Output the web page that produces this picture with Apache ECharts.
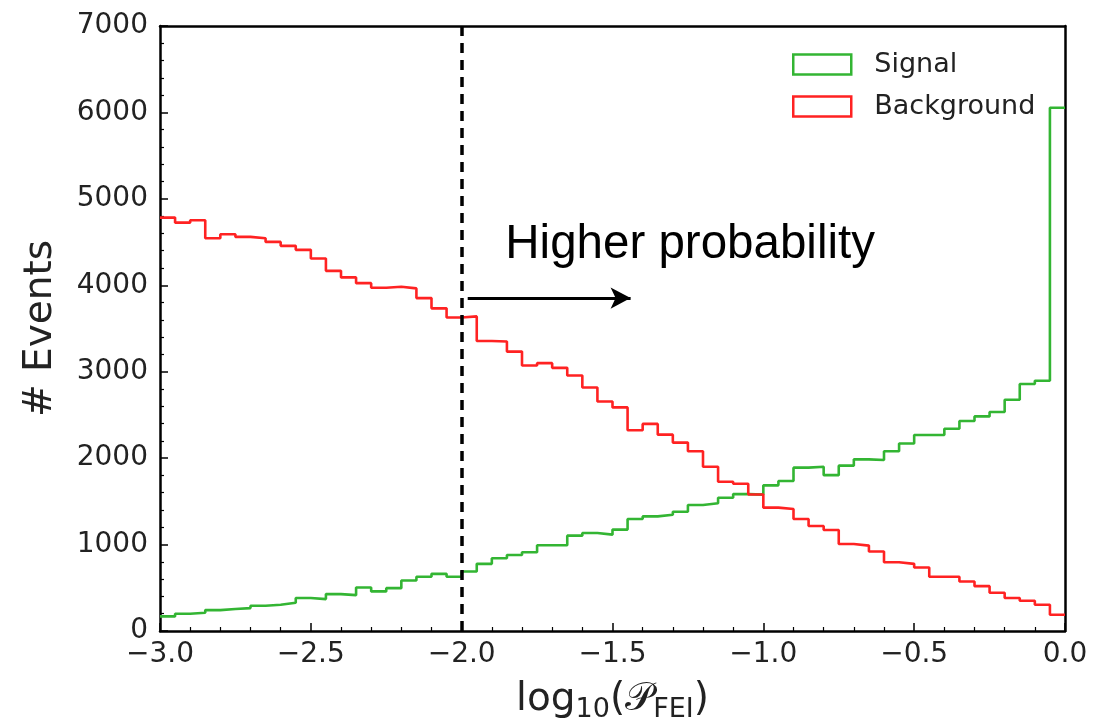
<!DOCTYPE html>
<html><head><meta charset="utf-8">
<script src="https://cdn.jsdelivr.net/npm/echarts@6/dist/echarts.min.js"></script>
<style>html,body{margin:0;padding:0;background:#fff}#c{width:1093px;height:728px}</style>
</head><body><div id="c"></div>
<script>
// Histogram binning (60 bins of width 0.05 from -3.0 to 0.0)
const binStart = -3.0;
const binWidth = 0.05;

// Signal counts per bin
const signal = [169, 200, 211, 242, 254, 265, 292, 304, 327, 381,
                369, 427, 415, 504, 458, 496, 584, 627, 661, 627,
                688, 777, 842, 880, 911, 992, 992, 1103, 1134, 1115,
                1173, 1296, 1326, 1345, 1380, 1457, 1478, 1542, 1584, 1578,
                1685, 1736, 1890, 1900, 1803, 1913, 1986, 1978, 2080, 2170,
                2268, 2268, 2340, 2430, 2483, 2534, 2676, 2857, 2895, 6055];

// Background counts per bin
const background = [4783, 4725, 4752, 4544, 4590, 4560, 4544, 4502, 4456, 4410,
                    4310, 4167, 4091, 4025, 3971, 3983, 3964, 3852, 3733, 3628,
                    3640, 3355, 3350, 3233, 3072, 3099, 3045, 2956, 2818, 2656,
                    2587, 2322, 2396, 2272, 2180, 2080, 1900, 1727, 1703, 1580,
                    1427, 1411, 1296, 1215, 1169, 1007, 988, 919, 796, 777,
                    734, 627, 627, 573, 519, 442, 381, 350, 304, 188];

const seriesNames = ['Signal', 'Background'];
const cutValue = -2.0;
const arrowFrom = [-1.98, 3852];
const arrowTo = [-1.44, 3852];
const annotationText = 'Higher probability';
const annotationAt = [-1.857, 4464];

const GREEN = '#33b533';
const RED = '#ff2222';

function stepData(vals) {
  const pts = vals.map((v, i) => [+(binStart + i * binWidth).toFixed(3), v]);
  pts.push([+(binStart + vals.length * binWidth).toFixed(3), vals[vals.length - 1]]);
  return pts;
}
function fmtX(v) {
  const s = Math.abs(v).toFixed(1);
  return v < 0 ? '\u2212' + s : s;
}

const chart = echarts.init(document.getElementById('c'), null, {renderer: 'canvas'});
const FONT = 'DejaVu Sans';
chart.setOption({
  animation: false,
  backgroundColor: '#fff',
  grid: {left: 160, right: 28, top: 26, bottom: 95},
  legend: {
    orient: 'vertical', left: 792, top: 51, padding: 0,
    itemWidth: 58, itemHeight: 20, itemGap: 15,
    textStyle: {fontFamily: FONT, fontSize: 27, color: '#222', padding: [0, 0, 0, 18]},
    data: [
      {name: seriesNames[0], icon: 'rect', itemStyle: {color: '#fff', borderColor: GREEN, borderWidth: 2.5}},
      {name: seriesNames[1], icon: 'rect', itemStyle: {color: '#fff', borderColor: RED, borderWidth: 2.5}}
    ]
  },
  xAxis: [{
    type: 'value', min: -3, max: 0, interval: 0.5,
    name: '{a|log}{s|10}{a|(}{p|\uD835\uDCAB}{s|FEI}{a|)}',
    nameLocation: 'middle', nameGap: 46,
    nameTextStyle: {
      rich: {
        a: {fontFamily: FONT, fontSize: 39, color: '#222', lineHeight: 46},
        p: {fontFamily: 'DejaVu Sans, Noto Sans, serif', fontSize: 39, color: '#222', lineHeight: 46},
        s: {fontFamily: FONT, fontSize: 27, color: '#222', lineHeight: 20, verticalAlign: 'bottom'}
      }
    },
    axisLine: {show: true, onZero: false, lineStyle: {color: '#000', width: 2.5}},
    axisTick: {show: true, inside: true, length: 8, lineStyle: {color: '#000', width: 1.5}},
    minorTick: {show: true, splitNumber: 5, length: 4, lineStyle: {color: '#000', width: 1.2}},
    axisLabel: {fontFamily: FONT, fontSize: 28, color: '#222', margin: 10, formatter: fmtX},
    splitLine: {show: false}
  }, {
    type: 'value', min: -3, max: 0, position: 'top',
    axisLine: {show: true, onZero: false, lineStyle: {color: '#000', width: 2.5}},
    axisTick: {show: false}, axisLabel: {show: false}, splitLine: {show: false}
  }],
  yAxis: [{
    type: 'value', min: 0, max: 7000, interval: 1000,
    name: '# Events', nameLocation: 'middle', nameGap: 100,
    nameTextStyle: {fontFamily: FONT, fontSize: 39, color: '#222'},
    axisLine: {show: true, onZero: false, lineStyle: {color: '#000', width: 2.5}},
    axisTick: {show: true, inside: true, length: 8, lineStyle: {color: '#000', width: 1.5}},
    minorTick: {show: true, splitNumber: 5, length: 4, lineStyle: {color: '#000', width: 1.2}},
    axisLabel: {fontFamily: FONT, fontSize: 28, color: '#222', margin: 12, formatter: v => String(v)},
    splitLine: {show: false}
  }, {
    type: 'value', min: 0, max: 7000, position: 'right',
    axisLine: {show: true, onZero: false, lineStyle: {color: '#000', width: 2.5}},
    axisTick: {show: false}, axisLabel: {show: false}, splitLine: {show: false}
  }],
  series: [{
    name: seriesNames[0], type: 'line', step: 'end', showSymbol: false, symbol: 'none',
    data: stepData(signal),
    lineStyle: {color: GREEN, width: 2.6}, itemStyle: {color: GREEN},
    z: 3,
    markPoint: {
      silent: true, symbol: 'circle', symbolSize: 1, itemStyle: {color: 'rgba(0,0,0,0)'},
      data: [{coord: annotationAt, label: {
        show: true, position: 'right', distance: 0, formatter: annotationText,
        fontFamily: 'Liberation Sans, Arial, sans-serif', fontSize: 47.5, color: '#000'
      }}]
    },
    markLine: {
      silent: true, animation: false,
      label: {show: false},
      data: [[
        {coord: arrowFrom, symbol: 'none'},
        {coord: arrowTo, symbol: 'arrow', symbolSize: [16, 20]}
      ]],
      lineStyle: {color: '#000', width: 3, type: 'solid'}
    }
  }, {
    name: seriesNames[1], type: 'line', step: 'end', showSymbol: false, symbol: 'none',
    data: stepData(background),
    lineStyle: {color: RED, width: 2.6}, itemStyle: {color: RED},
    z: 3,
    markLine: {
      silent: true, animation: false, symbol: 'none',
      label: {show: false},
      data: [{xAxis: cutValue}],
      lineStyle: {color: '#000', width: 3.5, type: [10, 7]}
    }
  }]
});
</script>
</body></html>
